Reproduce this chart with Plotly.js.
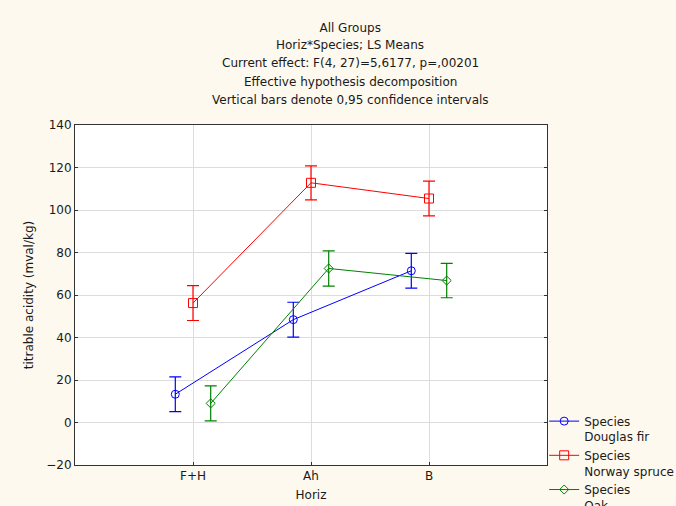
<!DOCTYPE html>
<html>
<head>
<meta charset="utf-8">
<script src="https://cdn.plot.ly/plotly-3.0.1.min.js"></script>
<style>html,body{margin:0;padding:0;background:#FEF9EE;}#chart{width:676px;height:506px;}</style>
</head>
<body>
<div id="chart"></div>
<script>
// Data
var horiz = ['F+H', 'Ah', 'B'];
var douglasFir = [13.3, 48.4, 71.4];
var douglasFirCI = [8.2, 8.2, 8.2];
var norwaySpruce = [56.2, 112.8, 105.4];
var norwaySpruceCI = [8.2, 8.0, 8.2];
var oak = [9.0, 72.5, 66.8];
var oakCI = [8.2, 8.3, 8.1];
var seriesNames = ['Species<br>Douglas fir', 'Species<br>Norway spruce', 'Species<br>Oak'];
var yTicks = [-20, 0, 20, 40, 60, 80, 100, 120, 140];

var FONT = 'DejaVu Sans, Verdana, sans-serif';

function mk(name, y, ci, color, symbol, size) {
  return {
    type: 'scatter', mode: 'lines+markers', name: name,
    x: horiz, y: y,
    line: {color: color, width: 1},
    marker: {symbol: symbol, size: size, color: color, line: {color: color, width: 1}},
    error_y: {type: 'data', array: ci, visible: true, color: color, thickness: 1.2, width: 6}
  };
}

var traces = [
  mk(seriesNames[0], douglasFir, douglasFirCI, '#0000FF', 'circle-open', 8),
  mk(seriesNames[1], norwaySpruce, norwaySpruceCI, '#FF0000', 'square-open', 9),
  mk(seriesNames[2], oak, oakCI, '#008000', 'diamond-open', 7)
];

var subtitle = [
  'Horiz*Species; LS Means',
  'Current effect: F(4, 27)=5,6177, p=,00201',
  'Effective hypothesis decomposition',
  'Vertical bars denote 0,95 confidence intervals'
];
var annotations = subtitle.map(function (t, i) {
  return {text: t, xref: 'paper', yref: 'paper', x: 0.583, y: 1 + (80 - 18.4 * i) / 340,
    xanchor: 'center', yanchor: 'middle', showarrow: false,
    font: {family: FONT, size: 12, color: '#1a1a1a'}};
});

var layout = {
  width: 676, height: 506,
  paper_bgcolor: '#FEF9EE', plot_bgcolor: '#FFFFFF',
  margin: {l: 75, r: 129, t: 125, b: 41, autoexpand: false},
  font: {family: FONT, size: 12, color: '#1a1a1a'},
  title: {text: 'All Groups', x: 0.518, xref: 'container', xanchor: 'center',
    y: 1 - 28 / 506, yref: 'container', yanchor: 'middle',
    font: {family: FONT, size: 12, color: '#1a1a1a'}},
  scattermode: 'group', scattergap: 0.55,
  showlegend: true,
  legend: {xref: 'container', yref: 'container', x: 0.805, xanchor: 'left',
    y: 0.196, yanchor: 'top', valign: 'top', bgcolor: 'rgba(0,0,0,0)',
    font: {family: FONT, size: 12, color: '#1a1a1a'}, tracegroupgap: 0, itemwidth: 30},
  xaxis: {type: 'category', range: [-1, 3], showgrid: true, gridcolor: '#DCDCDC',
    linecolor: '#333333', linewidth: 1, mirror: true, ticks: 'inside', ticklen: 3,
    tickcolor: '#333333', zeroline: false, tickfont: {size: 12}, automargin: false,
    title: {text: 'Horiz', standoff: 8, font: {size: 12}}},
  yaxis: {range: [-20, 140], tickvals: yTicks, showgrid: true, gridcolor: '#DCDCDC',
    linecolor: '#333333', linewidth: 1, mirror: 'ticks', ticks: 'inside', ticklen: 3,
    tickcolor: '#333333', zeroline: false, tickfont: {size: 12}, automargin: false,
    title: {text: 'titrable acidity (mval/kg)', standoff: 10, font: {size: 12}}},
  annotations: annotations,
  hovermode: false
};

Plotly.newPlot('chart', traces, layout, {displayModeBar: false, staticPlot: true});
</script>
</body>
</html>
